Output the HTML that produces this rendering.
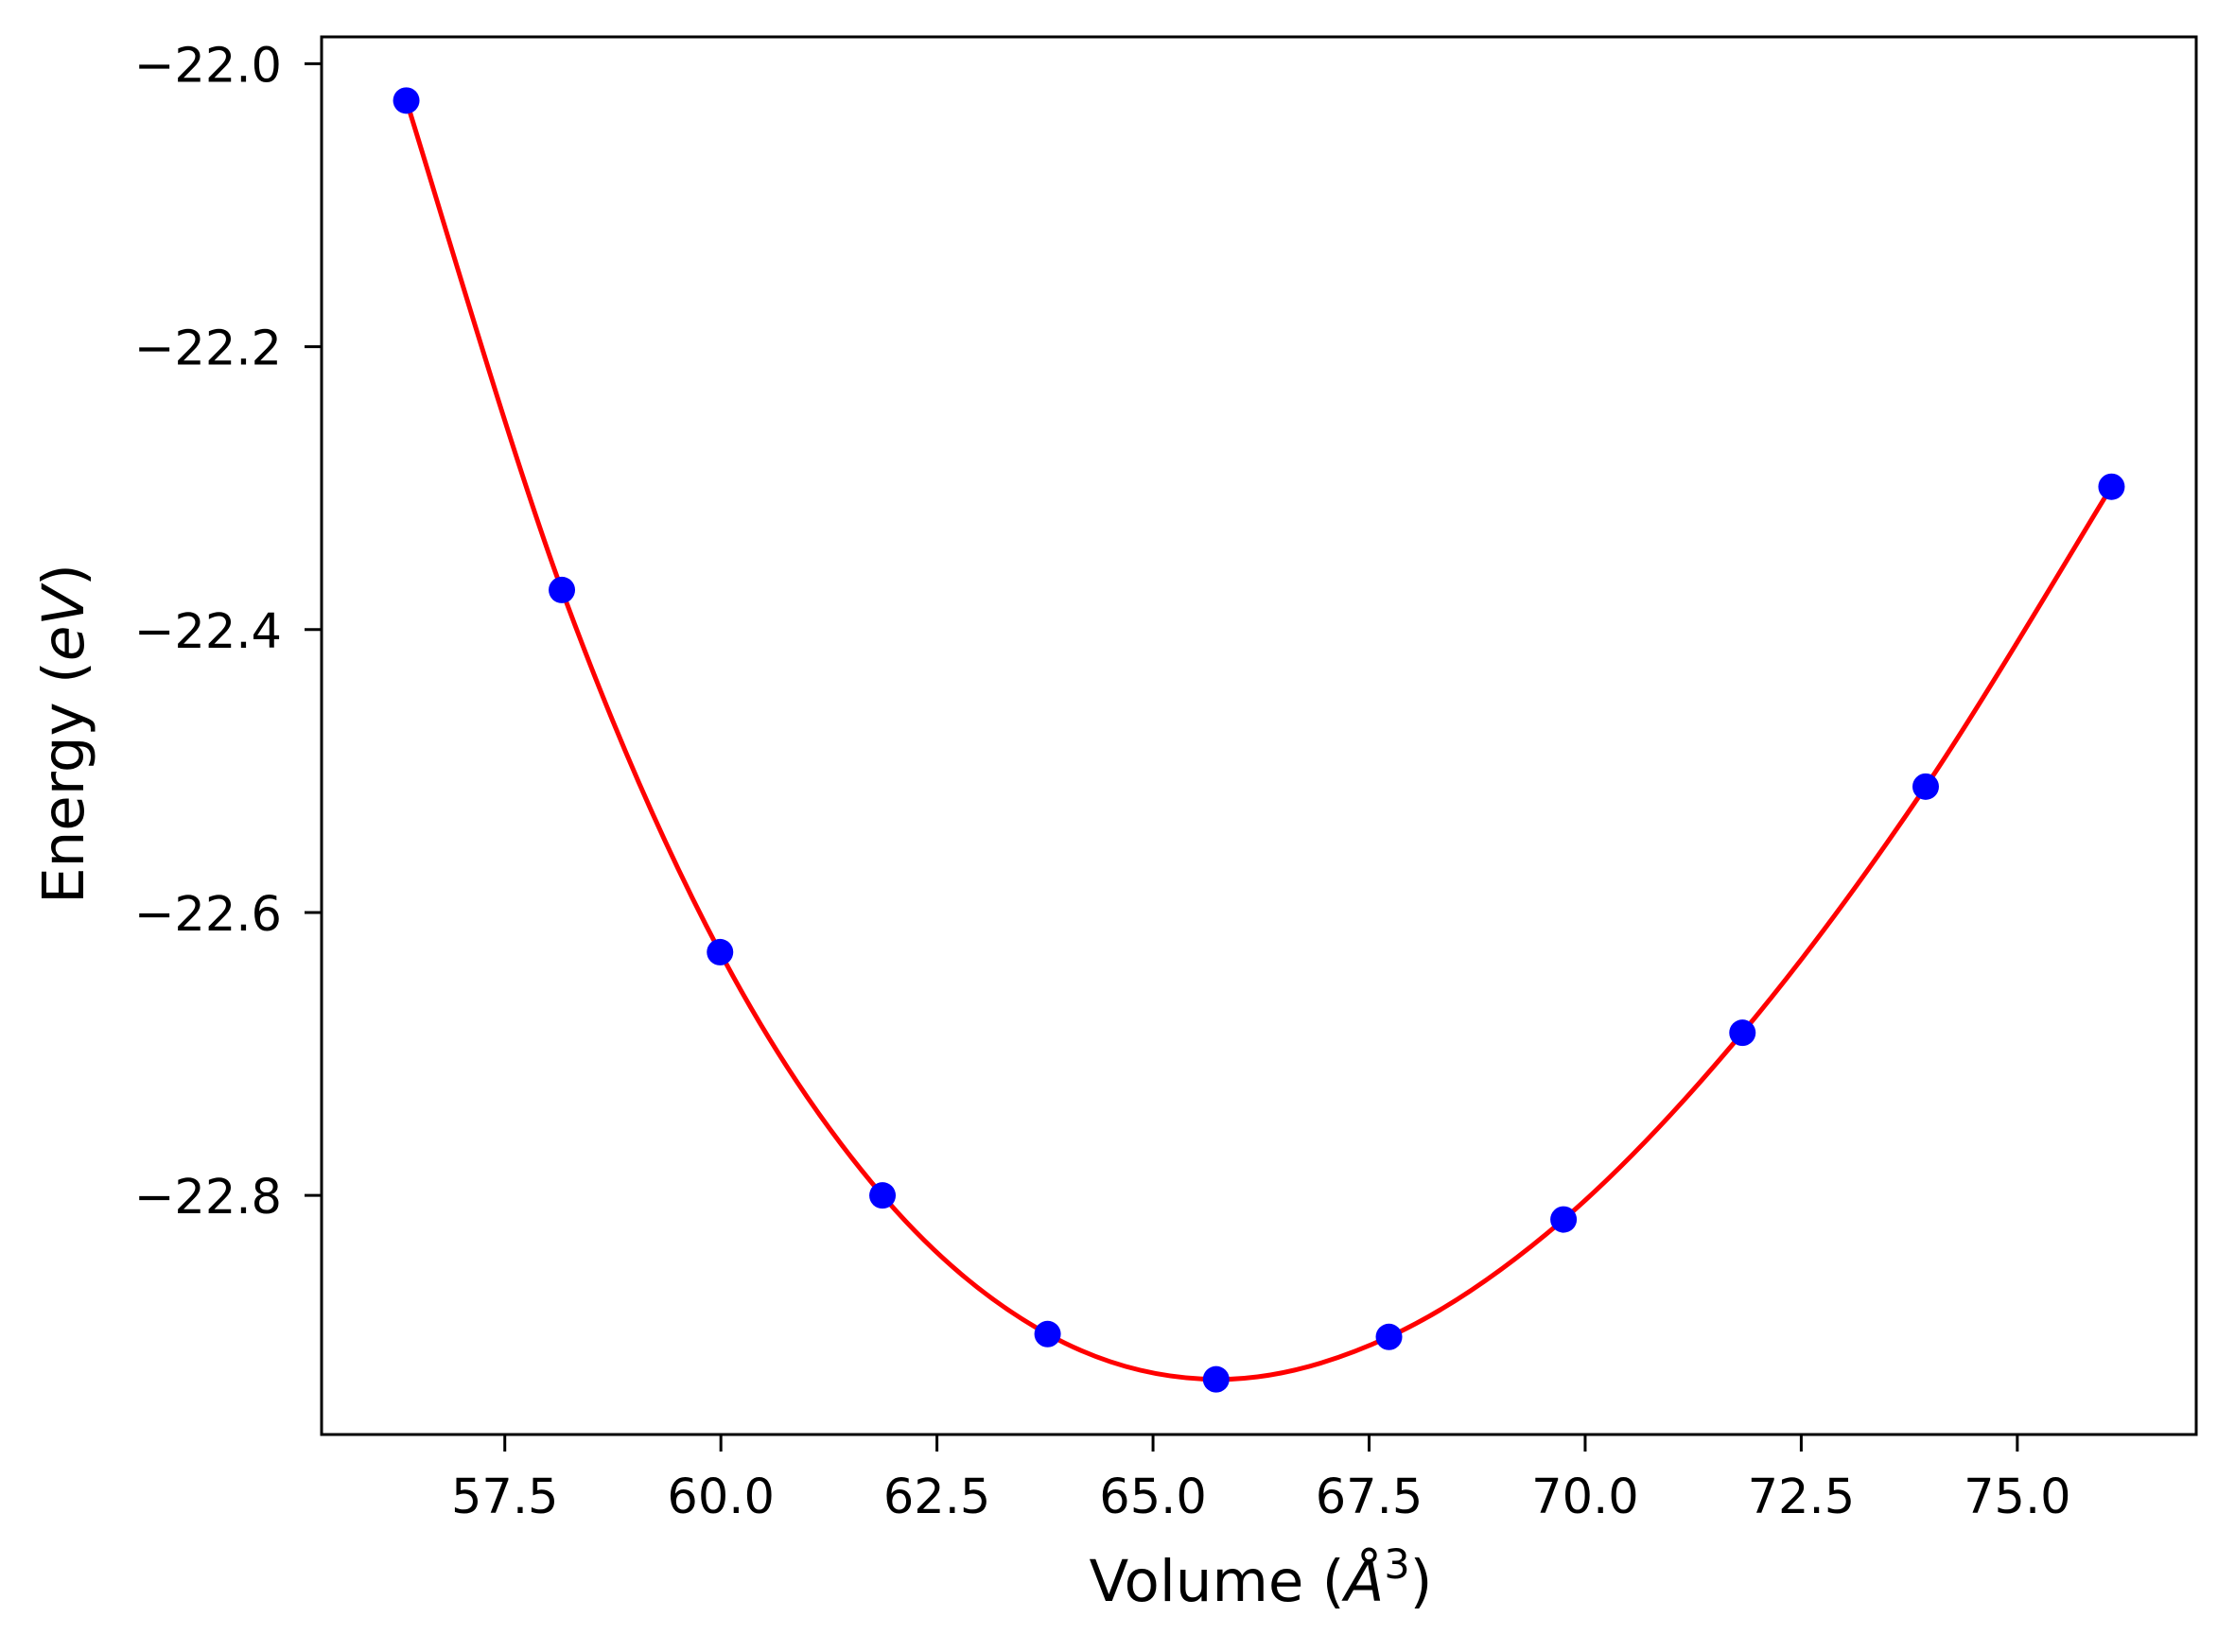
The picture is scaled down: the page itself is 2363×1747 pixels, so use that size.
<!DOCTYPE html>
<html><head><meta charset="utf-8"><style>
html,body{margin:0;padding:0;background:#fff}
svg{display:block;font-family:"DejaVu Sans","Liberation Sans",sans-serif}
</style></head><body>
<svg id="chart" width="2363" height="1747" viewBox="0 0 2363 1747" xmlns="http://www.w3.org/2000/svg">
<rect width="2363" height="1747" fill="#fff"/>
<g id="plot"></g>
<rect x="340" y="39" width="1982" height="1478" fill="none" stroke="#000" stroke-width="3"/>
<g id="xticks"></g><g id="yticks"></g>
<text x="1333" y="1693" font-size="61" text-anchor="middle">Volume (<tspan font-style="italic">Å</tspan><tspan font-size="43" dy="-24">3</tspan><tspan dy="24">)</tspan></text>
<text transform="translate(88,776) rotate(-90)" font-size="61" text-anchor="middle">Energy (<tspan font-style="italic">eV</tspan>)</text>
</svg>
<script>
const volumes=[56.36,58.16,59.99,61.87,63.78,65.73,67.73,69.75,71.82,73.94,76.09];
const energies=[-22.026,-22.372,-22.628,-22.800,-22.898,-22.930,-22.900,-22.817,-22.685,-22.511,-22.299];
const xTicks=[57.5,60.0,62.5,65.0,67.5,70.0,72.5,75.0];
const yTicks=[-22.0,-22.2,-22.4,-22.6,-22.8];
const NS="http://www.w3.org/2000/svg";
const L=340,R=2322,T=39,B=1517;
const X0=55.38,X1=77.07,Y0=-22.969,Y1=-21.981;
function sx(v){return L+(v-X0)/(X1-X0)*(R-L);}
function sy(v){return B-(v-Y0)/(Y1-Y0)*(B-T);}
function mk(tag,attrs){const e=document.createElementNS(NS,tag);for(const k in attrs)e.setAttribute(k,attrs[k]);return e;}
const plot=document.getElementById('plot');
// smooth curve (Catmull-Rom through points)
const P=volumes.map((v,i)=>[sx(v),sy(energies[i])]);
let d='M'+P[0][0]+','+P[0][1];
for(let i=0;i<P.length-1;i++){
  const p0=P[Math.max(0,i-1)],p1=P[i],p2=P[i+1],p3=P[Math.min(P.length-1,i+2)];
  const c1=[p1[0]+(p2[0]-p0[0])/6,p1[1]+(p2[1]-p0[1])/6];
  const c2=[p2[0]-(p3[0]-p1[0])/6,p2[1]-(p3[1]-p1[1])/6];
  d+=' C'+c1[0]+','+c1[1]+' '+c2[0]+','+c2[1]+' '+p2[0]+','+p2[1];
}
const line=mk('path',{d:d,fill:'none',stroke:'#ff0000','stroke-width':5});


plot.appendChild(line);
volumes.forEach((v,i)=>{
  const c=mk('circle',{cx:sx(v),cy:sy(energies[i]),r:14,fill:'#0000ff'});
  
  
  plot.appendChild(c);
});
const xt=document.getElementById('xticks');
xTicks.forEach(v=>{
  const x=sx(v);
  const l=mk('line',{x1:x,x2:x,y1:B,y2:B+18,stroke:'#000','stroke-width':3});
  
  
  xt.appendChild(l);
  const t=mk('text',{x:x,y:1600,'font-size':51,'text-anchor':'middle'});
  
  
  t.textContent=v.toFixed(1);
  xt.appendChild(t);
});
const yt=document.getElementById('yticks');
yTicks.forEach(v=>{
  const y=sy(v);
  const l=mk('line',{x1:L-18,x2:L,y1:y,y2:y,stroke:'#000','stroke-width':3});
  
  
  yt.appendChild(l);
  const t=mk('text',{x:298,y:y+19,'font-size':51,'text-anchor':'end'});
  
  
  t.textContent='\u2212'+Math.abs(v).toFixed(1);
  yt.appendChild(t);
});
</script>
</body></html>
